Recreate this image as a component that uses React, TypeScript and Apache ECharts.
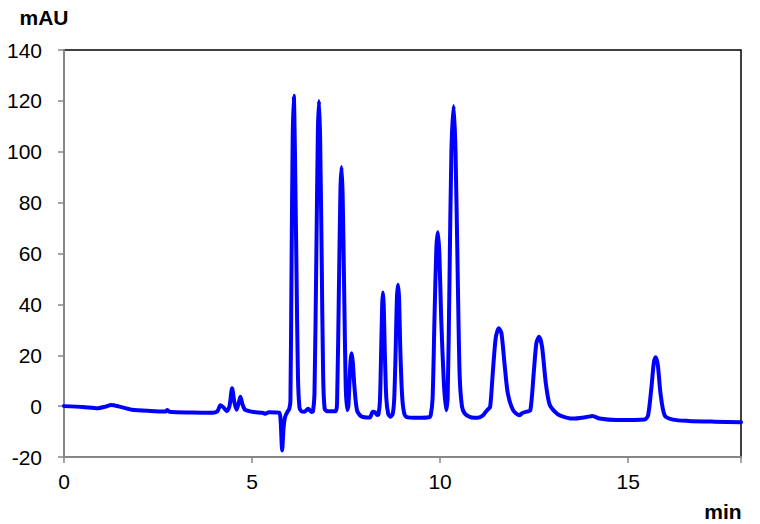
import React, { useEffect, useRef } from "react";
import * as echarts from "echarts";

const yTicks = [-20, 0, 20, 40, 60, 80, 100, 120, 140];
const xTickLabels = ["0", "5", "10", "15"];

const baselineStart: [number, number][] = [
  [0, 0], [0.5, -0.3], [0.9, -0.8], [1.1, -0.2], [1.25, 0.4], [1.45, -0.1], [1.8, -1.4],
  [2.3, -1.9], [2.7, -2.1], [2.75, -1.5], [2.8, -2.2], [3.4, -2.5], [3.95, -2.6],
  [4.08, -2.0], [4.16, 0.3], [4.24, -0.5], [4.33, -2.0], [4.40, 0], [4.47, 7.0],
  [4.53, 1.5], [4.59, -1.4], [4.64, 1.0], [4.69, 3.7], [4.75, 0.5], [4.82, -1.5],
  [5.0, -2.2], [5.3, -2.7], [5.35, -3.0], [5.45, -2.4], [5.72, -2.6], [5.76, -6],
  [5.80, -17.4], [5.84, -8], [5.88, -4.2], [5.95, -2.0], [5.99, -1.0],
];

const peaksEarly: [number, number][] = [
  [6.02, 2], [6.05, 55], [6.08, 105], [6.11, 122], [6.14, 100], [6.18, 55], [6.22, 12],
  [6.26, -0.5], [6.31, -2], [6.40, -2.2], [6.49, -1.0], [6.58, -2.3],
  [6.62, -2], [6.66, 5], [6.71, 60], [6.75, 108], [6.78, 120], [6.81, 105], [6.85, 60],
  [6.89, 12], [6.93, -1], [7.0, -2], [7.22, -2],
  [7.26, 1], [7.31, 47], [7.35, 85], [7.38, 94], [7.41, 82], [7.45, 45], [7.49, 8],
  [7.53, -1.6], [7.56, 0], [7.59, 9], [7.62, 18], [7.65, 20.8], [7.68, 17], [7.72, 8],
  [7.79, -1.6], [7.90, -4], [8.13, -4.5], [8.21, -2.2], [8.27, -2.5], [8.33, -3.5],
];

const peaksMiddle: [number, number][] = [
  [8.36, -3.3], [8.40, 2], [8.43, 20], [8.46, 40], [8.48, 44.7], [8.50, 40], [8.53, 21],
  [8.57, 3], [8.62, -3], [8.68, -4.2], [8.74, -3], [8.78, 3], [8.82, 23], [8.85, 42],
  [8.88, 47.7], [8.91, 42], [8.94, 23], [8.99, 4], [9.04, -2.5], [9.10, -4.2], [9.4, -4.6],
  [9.70, -4.4], [9.75, -3.5], [9.80, 3], [9.85, 34], [9.90, 62], [9.94, 68.4], [9.98, 60],
  [10.03, 34], [10.10, 9], [10.16, -1.6], [10.20, 3], [10.25, 50], [10.30, 100],
  [10.36, 118], [10.41, 100], [10.47, 50], [10.52, 12], [10.58, 0], [10.65, -2.8],
  [10.78, -4.2], [10.9, -4.6], [11.05, -4.4], [11.15, -3.5], [11.20, -2.5], [11.27, -1.3],
];

const peaksLate: [number, number][] = [
  [11.33, -0.3], [11.40, 13], [11.48, 27], [11.56, 30.6], [11.63, 28.7], [11.72, 15.5],
  [11.80, 5], [11.94, -1.6], [12.10, -3.6], [12.20, -2.6], [12.30, -2.2], [12.40, -1.6],
  [12.49, 13.2], [12.56, 24.8], [12.63, 27.3], [12.71, 23.4], [12.81, 9], [12.91, 0.7],
  [13.05, -2.2], [13.18, -3.6], [13.53, -4.9], [13.89, -4.3], [14.05, -3.9], [14.24, -4.9],
  [14.69, -5.5], [15.44, -5.3], [15.53, -3.6], [15.62, 7.6], [15.68, 16.8], [15.73, 19.2],
  [15.79, 16], [15.86, 5], [15.97, -3.6], [16.19, -5.3], [16.6, -5.8], [17.3, -6.1],
  [18, -6.3],
];

const signal = [...baselineStart, ...peaksEarly, ...peaksMiddle, ...peaksLate];

const FONT = "'Liberation Sans', Arial, sans-serif";

export default function App() {
  const ref = useRef<HTMLDivElement>(null);
  useEffect(() => {
    document.body.style.margin = "0";
    if (!ref.current) return;
    const chart = echarts.init(ref.current, null, { renderer: "svg" });
    chart.setOption({
      animation: false,
      backgroundColor: "#ffffff",
      grid: {
        left: 64,
        right: 19,
        top: 50,
        bottom: 67,
        show: true,
        borderColor: "#000000",
        borderWidth: 1.5,
        backgroundColor: "transparent",
      },
      xAxis: {
        type: "value",
        min: 0,
        max: 18,
        interval: 5,
        axisLine: { show: true, onZero: false, lineStyle: { color: "#868686", width: 2 } },
        axisTick: { show: true, length: 6, lineStyle: { color: "#868686", width: 1.5 } },
        axisLabel: {
          color: "#000",
          fontSize: 21,
          fontFamily: FONT,
          margin: 14,
          formatter: (v: number) => (xTickLabels.includes(String(v)) ? String(v) : ""),
        },
        splitLine: { show: false },
      },
      yAxis: {
        type: "value",
        min: yTicks[0],
        max: yTicks[yTicks.length - 1],
        interval: 20,
        axisLine: { show: true, lineStyle: { color: "#868686", width: 2 } },
        axisTick: { show: true, length: 6, lineStyle: { color: "#868686", width: 1.5 } },
        axisLabel: { color: "#000", fontSize: 21, fontFamily: FONT, margin: 22 },
        splitLine: { show: false },
      },
      graphic: [
        {
          type: "text",
          style: {
            text: "mAU",
            x: 44,
            y: 17,
            align: "center",
            verticalAlign: "middle",
            textAlign: "center",
            textVerticalAlign: "middle",
            font: `bold 21px ${FONT}`,
            fill: "#000",
          },
        },
        {
          type: "text",
          style: {
            text: "min",
            x: 723,
            y: 511,
            align: "center",
            verticalAlign: "middle",
            textAlign: "center",
            textVerticalAlign: "middle",
            font: `bold 21px ${FONT}`,
            fill: "#000",
          },
        },
      ],
      series: [
        {
          type: "line",
          data: signal,
          showSymbol: false,
          symbol: "none",
          smooth: 0.25,
          lineStyle: { color: "#0000ff", width: 4, cap: "round", join: "round" },
          z: 3,
        },
      ],
    });
    return () => chart.dispose();
  }, []);
  return <div ref={ref} style={{ width: 760, height: 524 }} />;
}
